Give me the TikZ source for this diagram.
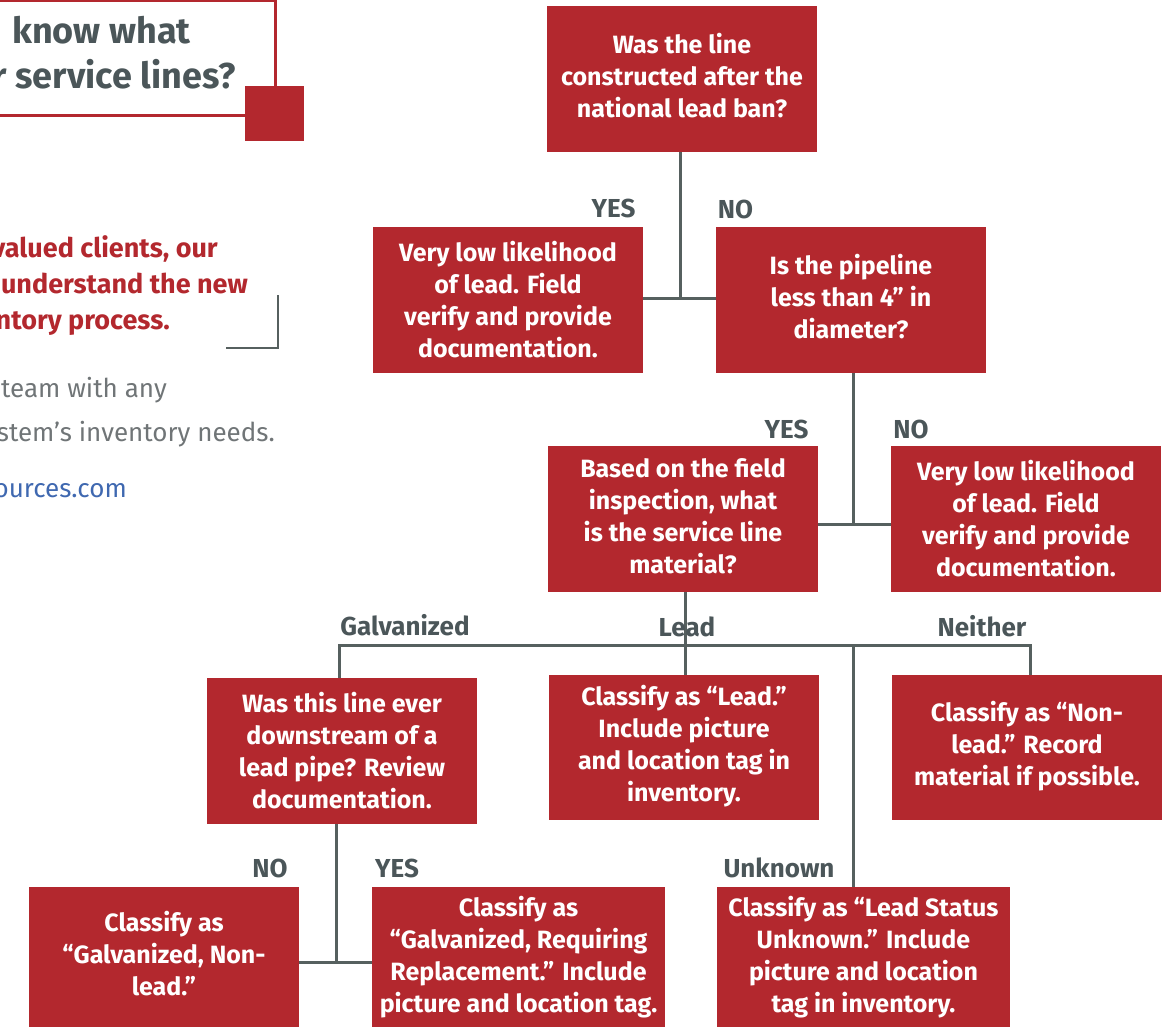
\documentclass[tikz,border=0pt]{standalone}
\usepackage{fontspec}
\setmainfont{Fira Sans}
\definecolor{brand}{HTML}{B3282E}
\definecolor{slate}{HTML}{4B5659}
\definecolor{wirec}{HTML}{56605F}
\definecolor{bodyc}{HTML}{707577}
\definecolor{linkc}{HTML}{3F68B0}
\newcommand\boxlines[2]{\raisebox{#1}{\begin{tabular}{@{}c@{}}#2\end{tabular}}}
\begin{document}
\begin{tikzpicture}[x=1pt,y=-1pt,
  box/.style={fill=brand, text=white, align=center, inner sep=0pt,
    minimum width=270pt, minimum height=146pt,
    font=\fontsize{25}{32}\selectfont\bfseries},
  lbl/.style={text=slate, font=\fontsize{26}{30}\selectfont\bfseries, inner sep=0pt, anchor=base},
  wire/.style={draw=wirec, line width=3pt},
  redtxt/.style={text=brand, font=\fontsize{27}{32}\selectfont\bfseries, inner sep=0pt, anchor=base east},
  graytxt/.style={text=bodyc, font=\fontsize{26}{30}\selectfont, inner sep=0pt, anchor=base east}]
\useasboundingbox (0,0) rectangle (1167,1029);

% header panel
\draw[brand, line width=3pt] (-10,0.5) -- (275.5,0.5) -- (275.5,115) -- (-10,115);
\node[fill=brand, minimum width=59pt, minimum height=55pt, inner sep=0pt] (hsq) at (274.5,113.5) {};
\node[text=slate, font=\fontsize{36}{44}\selectfont\bfseries, inner sep=0pt, anchor=base west] (h1) at (12,43) {know what};
\node[text=slate, font=\fontsize{36}{44}\selectfont\bfseries, inner sep=0pt, anchor=base east] (h2) at (236,88) {r service lines?};

% intro text
\node[redtxt] (r1) at (218,257) {valued clients, our};
\node[redtxt] (r2) at (248,293) {understand the new};
\node[redtxt] (r3) at (170,329) {ntory process.};
\draw[wirec, line width=2pt] (278,295) -- (278,348) -- (226,348);
\node[graytxt] (g1) at (167,397) {team with any};
\node[graytxt] (g2) at (275,441) {stem’s inventory needs.};
\node[graytxt, text=linkc] (g3) at (127,497) {ources.com};

% boxes
\node[box] (b1) at (682,79) {\boxlines{3pt}{Was the line\\constructed after the\\national lead ban?}};
\node[box] (b2) at (508,300) {Very low likelihood\\of lead. Field\\verify and provide\\documentation.};
\node[box] (b3) at (851,300) {\boxlines{2pt}{Is the pipeline\\less than 4” in\\diameter?}};
\node[box] (b4) at (683,519) {\boxlines{1pt}{Based on the field\\inspection, what\\is the service line\\material?}};
\node[box] (b5) at (1026,519) {Very low likelihood\\of lead. Field\\verify and provide\\documentation.};
\node[box] (b6) at (342,751) {Was this line ever\\downstream of a\\lead pipe? Review\\documentation.};
\node[box, minimum height=145pt] (b7) at (684,747.5) {\boxlines{-1.5pt}{Classify as “Lead.”\\Include picture\\and location tag in\\inventory.}};
\node[box, minimum height=145pt] (b8) at (1027,747.5) {\boxlines{2pt}{Classify as “Non-\\lead.” Record\\material if possible.}};
\node[box, minimum height=140pt] (b9) at (164,957) {\boxlines{2pt}{Classify as\\“Galvanized, Non-\\lead.”}};
\node[box, minimum height=140pt, minimum width=293pt] (b10) at (518.5,957) {Classify as\\“Galvanized, Requiring\\Replacement.” Include\\picture and location tag.};
\node[box, minimum height=140pt, minimum width=293pt] (b11) at (863.5,957) {Classify as “Lead Status\\Unknown.” Include\\picture and location\\tag in inventory.};

% connectors
\coordinate (j1) at (680,298);
\draw[wire] (b1.south -| j1) -- (j1);
\draw[wire] (b2.east |- j1) -- (b3.west |- j1);
\coordinate (j2) at (853,524);
\draw[wire] (b3.south -| j2) -- (j2);
\draw[wire] (b4.east |- j2) -- (b5.west |- j2);
\coordinate (busL) at (339,645);
\coordinate (busM) at (685,645);
\coordinate (busU) at (853,645);
\coordinate (busR) at (1030,645);
\draw[wire] (b6.north -| busL) -- (busL) -- (busR) -- (b8.north -| busR);
\draw[wire] (b4.south -| busM) -- (b7.north -| busM);
\draw[wire] (busU) -- (b11.north -| busU);
\coordinate (j4) at (336,962);
\draw[wire] (b6.south -| j4) -- (j4);
\draw[wire] (b9.east |- j4) -- (b10.west |- j4);

% labels
\node[lbl] (l1) at (613.5,217) {YES};
\node[lbl] (l2) at (735.5,218) {NO};
\node[lbl] (l3) at (786.5,438) {YES};
\node[lbl] (l4) at (911,438) {NO};
\node[lbl] (l5) at (405,635) {Galvanized};
\node[lbl] (l6) at (687,636) {Lead};
\node[lbl] (l7) at (982,636) {Neither};
\node[lbl] (l8) at (270,877) {NO};
\node[lbl] (l9) at (397,877) {YES};
\node[lbl] (l10) at (779,877) {Unknown};
\end{tikzpicture}
\end{document}
